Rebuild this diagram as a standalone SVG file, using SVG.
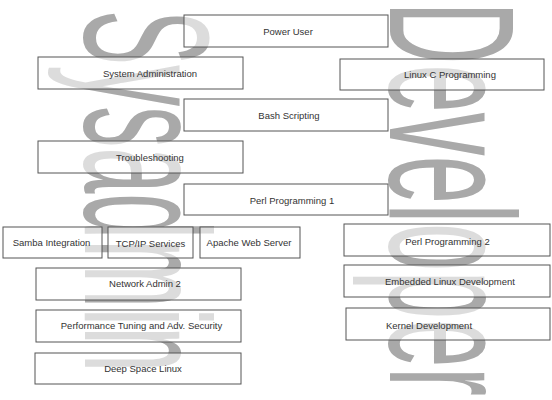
<svg xmlns="http://www.w3.org/2000/svg" width="552" height="400" viewBox="0 0 552 400">
<style>
.wm{font-family:"Liberation Sans",Arial,sans-serif;font-size:179px;fill:#a9a9a9}
.box rect{fill:#fff;fill-opacity:0.6;stroke:#555;stroke-width:1}
.box text{font-family:"Liberation Sans",Arial,sans-serif;font-size:9.5px;fill:#333;text-anchor:middle}
</style>
<rect width="552" height="400" fill="#fff"/>
<g id="watermarks">
<text class="wm" transform="translate(85,10) rotate(90)" textLength="362" lengthAdjust="spacingAndGlyphs">Sysadmin</text>
<text class="wm" transform="translate(390,2) rotate(90)" textLength="394" lengthAdjust="spacingAndGlyphs">Developer</text>
</g>
<g id="connectors"></g>
<g id="power-user" class="box"><rect x="184" y="15" width="204" height="32"/><text x="288" y="35">Power User</text></g>
<g id="system-administration" class="box"><rect x="38" y="57" width="205" height="32"/><text x="150" y="77">System Administration</text></g>
<g id="linux-c-programming" class="box"><rect x="340" y="59" width="204" height="31"/><text x="450" y="78">Linux C Programming</text></g>
<g id="bash-scripting" class="box"><rect x="184" y="99" width="204" height="32"/><text x="289" y="119">Bash Scripting</text></g>
<g id="troubleshooting" class="box"><rect x="38" y="141" width="205" height="32"/><text x="150" y="161">Troubleshooting</text></g>
<g id="perl-programming-1" class="box"><rect x="184" y="184" width="204" height="31"/><text x="292" y="203.5">Perl Programming 1</text></g>
<g id="samba-integration" class="box"><rect x="3" y="227" width="99" height="31"/><text x="51.5" y="245.5">Samba Integration</text></g>
<g id="tcpip-services" class="box"><rect x="108" y="227" width="85" height="31"/><text x="150.5" y="246.5">TCP/IP Services</text></g>
<g id="apache-web-server" class="box"><rect x="200" y="227" width="100" height="31"/><text x="249" y="245.5">Apache Web Server</text></g>
<g id="network-admin-2" class="box"><rect x="36" y="268" width="205" height="32"/><text x="145" y="287">Network Admin 2</text></g>
<g id="performance-tuning" class="box"><rect x="36" y="310" width="205" height="32"/><text x="141.5" y="329">Performance Tuning and Adv. Security</text></g>
<g id="deep-space-linux" class="box"><rect x="35" y="353" width="206" height="31"/><text x="143" y="371.5">Deep Space Linux</text></g>
<g id="perl-programming-2" class="box"><rect x="344" y="224" width="206" height="32"/><text x="447.5" y="245">Perl Programming 2</text></g>
<g id="embedded-linux-development" class="box"><rect x="344" y="265" width="206" height="32"/><text x="450" y="285">Embedded Linux Development</text></g>
<g id="kernel-development" class="box"><rect x="346" y="308" width="204" height="32"/><text x="429" y="329">Kernel Development</text></g>
</svg>
